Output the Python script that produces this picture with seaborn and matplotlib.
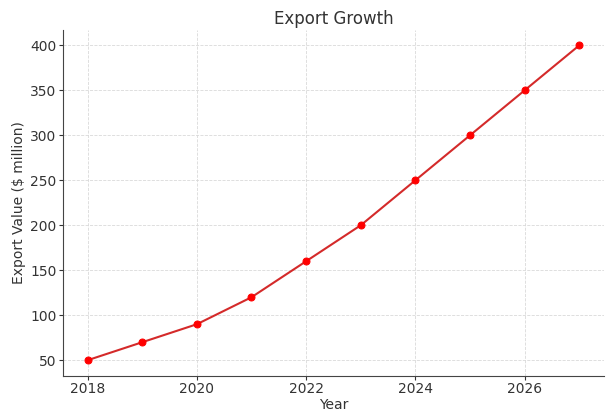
import pandas as pd
import matplotlib
matplotlib.use("Agg")
import matplotlib.pyplot as plt
import seaborn as sns

# Datos de la gráfica
years = [2018, 2019, 2020, 2021, 2022, 2023, 2024, 2025, 2026, 2027]
export_values = [50, 70, 90, 120, 160, 200, 250, 300, 350, 400]

df = pd.DataFrame({"Year": years, "Export": export_values})

sns.set_style("whitegrid", {
    "grid.color": "#d9d9d9",
    "grid.linestyle": "--",
    "axes.edgecolor": "#444444",
    "xtick.bottom": True,
    "ytick.left": True,
})
plt.rcParams["font.family"] = ["DejaVu Sans"]
plt.rcParams["text.color"] = "#333333"
plt.rcParams["axes.labelcolor"] = "#333333"
plt.rcParams["xtick.color"] = "#333333"
plt.rcParams["ytick.color"] = "#333333"

fig = plt.figure(figsize=(6.11, 4.11), dpi=100)
ax = fig.add_axes([0.1030, 0.0852, 0.8855, 0.843])

sns.lineplot(data=df, x="Year", y="Export", ax=ax, color="#d42a2a", linewidth=1.5,
             marker="o", markersize=5, markerfacecolor="red", markeredgecolor="red")

ax.grid(True, linewidth=0.6)
ax.spines["top"].set_visible(False)
ax.spines["right"].set_visible(False)
ax.tick_params(axis="both", labelsize=10, length=3, width=0.8, pad=1.5)

ax.set_title("Export Growth", fontsize=12, pad=4)
ax.set_xlabel("Year", fontsize=10, labelpad=1)
ax.set_ylabel("Export Value ($ million)", fontsize=10, labelpad=3)

fig.savefig("out.png", dpi=100)
